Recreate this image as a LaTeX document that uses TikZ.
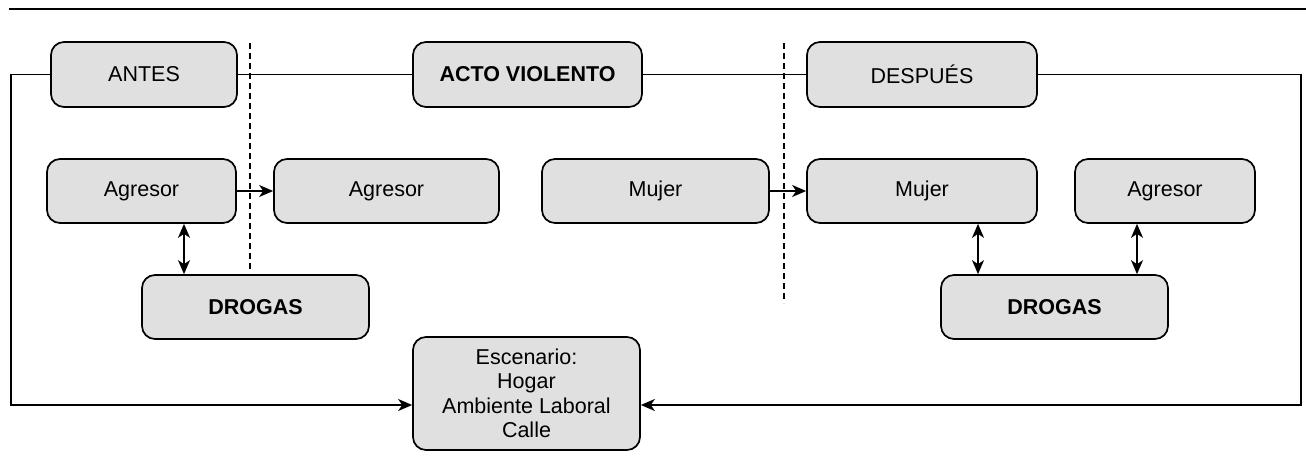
\documentclass[tikz,border=0pt]{standalone}
\usepackage{fontspec}
\setmainfont{Liberation Sans}
\usetikzlibrary{arrows.meta}
\definecolor{boxfill}{HTML}{E0E0E0}
\tikzset{
  box/.style={draw=black, fill=boxfill, line width=1.7pt, rounded corners=13pt,
    align=center, inner sep=0pt, font=\fontsize{21.5}{24.5}\selectfont,
    minimum height=64pt},
  boldbox/.style={box, font=\fontsize{21.5}{24.5}\selectfont\bfseries},
  conn/.style={line width=1.7pt},
  arr/.style={line width=1.7pt, -{Stealth[length=14pt,width=12pt,inset=4pt]}},
  darr/.style={line width=1.7pt, {Stealth[length=14pt,width=12pt,inset=4pt]}-{Stealth[length=14pt,width=12pt,inset=4pt]}},
  sep/.style={line width=1.6pt, dash pattern=on 6pt off 4pt}
}
\begin{document}
\begin{tikzpicture}[x=1pt,y=-1pt]
\useasboundingbox (0,0) rectangle (1306,466);
\draw[line width=1.8pt] (9,9) -- (1306,9);

% separators
\draw[sep] (250,43) -- (250,269);
\draw[sep] (784,43) -- (784,303);

% top row
\node[box, minimum width=186pt, minimum height=65pt] (antes) at (144,74.5) {ANTES};
\node[boldbox, minimum width=229pt, minimum height=65pt] (acto) at (527.5,74.5) {ACTO VIOLENTO};
\node[box, minimum width=230pt, minimum height=65pt] (despues) at (922,74.5) {DESPUÉS};

% second row
\node[box, minimum width=189pt] (ag1) at (141.5,191) {Agresor};
\node[box, minimum width=225pt] (ag2) at (386.5,191) {Agresor};
\node[box, minimum width=227pt] (mu1) at (655.5,191) {Mujer};
\node[box, minimum width=230pt] (mu2) at (922,191) {Mujer};
\node[box, minimum width=180pt] (ag3) at (1165,191) {Agresor};

% drogas
\node[boldbox, minimum width=227pt] (dr1) at (255.5,307) {DROGAS};
\node[boldbox, minimum width=227pt] (dr2) at (1054.5,307) {DROGAS};

% escenario
\node[box, minimum width=227pt, minimum height=113pt] (esc) at (526.5,393.5) {Escenario:\\Hogar\\Ambiente Laboral\\Calle};

% top line connections
\coordinate (lt) at (11,74.5);
\coordinate (lb) at (11,405);
\coordinate (rt) at (1301,74.5);
\coordinate (rb) at (1301,405);
\draw[conn] (antes.east) -- (acto.west);
\draw[conn] (acto.east) -- (despues.west);
\draw[arr] (antes.west) -- (lt) -- (lb) -- (lb -| esc.west);
\draw[arr] (despues.east) -- (rt) -- (rb) -- (rb -| esc.east);

% arrows
\draw[arr] (ag1.east) -- (ag2.west);
\draw[arr] (mu1.east) -- (mu2.west);

\coordinate (x1) at (184,0);
\coordinate (x2) at (978,0);
\coordinate (x3) at (1137,0);
\draw[darr] (ag1.south -| x1) -- (dr1.north -| x1);
\draw[darr] (mu2.south -| x2) -- (dr2.north -| x2);
\draw[darr] (ag3.south -| x3) -- (dr2.north -| x3);
\end{tikzpicture}
\end{document}
